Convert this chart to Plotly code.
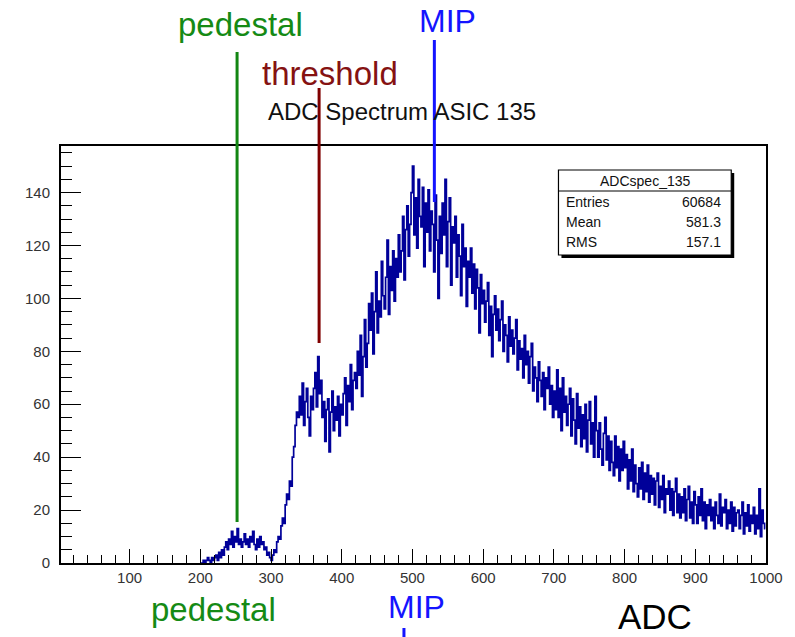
import plotly.graph_objects as go

# ---------------- data ----------------
BIN_START = 200          # ADC of the first filled bin
BIN_WIDTH = 2            # ADC counts per bin
counts = [
    0, 0, 1, 0, 1, 2, 1, 0, 2, 1,            # 200-218
    2, 3, 1, 4, 2, 5, 3, 6, 8, 5,            # 220-238
    9, 7, 12, 6, 10, 8, 13, 7, 9, 6,         # 240-258
    8, 11, 7, 9, 6, 10, 8, 12, 7, 5,         # 260-278
    9, 6, 10, 7, 8, 5, 6, 3, 4, 2,           # 280-298
    1, 3, 5, 4, 8, 10, 9, 14, 17, 15,        # 300-318
    22, 26, 24, 31, 29, 40, 44, 52, 57, 55,  # 320-338
    63, 56, 68, 52, 61, 66, 55, 48, 63, 58,  # 340-358
    66, 72, 59, 78, 64, 69, 55, 61, 46, 58,  # 360-378
    62, 42, 57, 65, 50, 59, 54, 63, 48, 60,  # 380-398
    56, 64, 70, 52, 67, 61, 75, 58, 69, 72,  # 400-418
    66, 80, 71, 86, 63, 78, 92, 74, 83, 98,  # 420-438
    88, 102, 79, 95, 110, 87, 99, 93, 114, 101,    # 440-458
    96, 108, 122, 94, 112, 103, 118, 99, 115, 108,  # 460-478
    124, 110, 118, 131, 107, 126, 135, 116, 128, 140,  # 480-498
    150, 124, 138, 119, 145, 131, 127, 142, 112, 136,  # 500-518
    125, 141, 118, 133, 128, 110, 139, 122, 100, 131,  # 520-538
    117, 136, 124, 145, 112, 129, 138, 105, 127, 121,  # 540-558
    131, 108, 124, 116, 101, 128, 112, 119, 97, 114,   # 560-578
    108, 119, 102, 113, 96, 111, 104, 87, 109, 98,     # 580-598
    103, 91, 99, 106, 86, 97, 78, 94, 101, 88,   # 600-618
    96, 84, 92, 99, 80, 90, 86, 76, 93, 82,      # 620-638
    88, 79, 85, 92, 73, 84, 77, 81, 70, 86,      # 640-658
    75, 80, 68, 78, 83, 65, 74, 70, 61, 76,      # 660-678
    69, 63, 72, 58, 70, 66, 74, 60, 67, 55,      # 680-698
    65, 58, 73, 55, 66, 50, 70, 57, 63, 52,      # 700-718
    60, 66, 48, 62, 54, 45, 64, 51, 59, 44,      # 720-738
    56, 47, 60, 42, 54, 61, 45, 53, 40, 63,      # 740-758
    50, 40, 53, 43, 37, 49, 55, 39, 48, 35,      # 760-778
    46, 38, 33, 48, 36, 44, 31, 43, 35, 46,      # 780-798
    36, 41, 28, 39, 31, 43, 27, 37, 30, 25,      # 800-818
    36, 28, 38, 24, 34, 27, 37, 23, 33, 26,      # 820-838
    32, 22, 31, 34, 21, 29, 24, 33, 19, 28,      # 840-858
    26, 31, 20, 28, 18, 27, 32, 19, 26, 17,      # 860-878
    25, 19, 28, 16, 24, 29, 17, 23, 15, 27,      # 880-898
    22, 15, 25, 18, 28, 16, 23, 13, 22, 18,      # 900-918
    24, 16, 21, 13, 23, 18, 15, 26, 14, 21,      # 920-938
    19, 24, 13, 20, 15, 23, 12, 21, 14, 19,      # 940-958
    20, 13, 18, 23, 11, 19, 14, 22, 12, 18,      # 960-978
    15, 21, 11, 18, 13, 28, 10, 20, 15, 13,      # 980-998
]

title_text = "ADC Spectrum ASIC 135"
stats_name = "ADCspec_135"
stats_rows = [("Entries", "60684"), ("Mean", "581.3"), ("RMS", "157.1")]

# marker positions on the ADC axis
PEDESTAL_ADC = 252
THRESHOLD_ADC = 368
MIP_ADC = 531
MIP_BOTTOM_ADC = 488

X_RANGE = [3, 1000]
Y_RANGE = [0, 157.6]

# ---------------- layout geometry ----------------
W, H = 795, 637
L, R, T, B = 61, 771, 146, 563


def px(xp):
    return (xp - L) / (R - L)


def py(yp):
    return (B - yp) / (B - T)


def adc2paper(a):
    return (a - X_RANGE[0]) / (X_RANGE[1] - X_RANGE[0])


centers = [BIN_START + BIN_WIDTH * (i + 0.5) for i in range(len(counts))]

FONT = "Liberation Sans, Arial, sans-serif"

fig = go.Figure()
fig.add_trace(go.Scatter(
    x=centers, y=counts, mode="lines",
    line=dict(color="#000099", width=1.7, shape="hvh"),
    hoverinfo="x+y", showlegend=False,
))

shapes = []


def vline(xp, y0, y1, color):
    shapes.append(dict(type="line", xref="paper", yref="paper",
                       x0=xp, x1=xp, y0=py(y0), y1=py(y1),
                       line=dict(color=color, width=3)))


vline(adc2paper(PEDESTAL_ADC), 52, 522, "#128612")
vline(adc2paper(THRESHOLD_ADC), 88, 343, "#800000")
vline(adc2paper(MIP_ADC), 40, 202, "#1414ff")
vline(adc2paper(MIP_BOTTOM_ADC), 628, 640, "#1414ff")

# stats box (ROOT style with shadow)
bx0, bx1, by0, by1 = 562, 736, 170, 255
shapes.append(dict(type="rect", xref="paper", yref="paper",
                   x0=px(bx0 + 3), x1=px(bx1 + 3), y0=py(by0 + 3), y1=py(by1 + 3),
                   fillcolor="black", line=dict(width=0)))
shapes.append(dict(type="rect", xref="paper", yref="paper",
                   x0=px(bx0), x1=px(bx1), y0=py(by0), y1=py(by1),
                   fillcolor="white", line=dict(color="black", width=1.2)))
shapes.append(dict(type="line", xref="paper", yref="paper",
                   x0=px(bx0), x1=px(bx1), y0=py(191), y1=py(191),
                   line=dict(color="black", width=1)))

annotations = []


def txt(text, xp, yp, size, color, anchor="center"):
    annotations.append(dict(text=text, xref="paper", yref="paper",
                            x=px(xp), y=py(yp), xanchor=anchor, yanchor="middle",
                            showarrow=False,
                            font=dict(family=FONT, size=size, color=color)))


txt("pedestal", 242, 24, 33, "#158a15")
txt("MIP", 450, 21, 32, "#1414ff")
txt("threshold", 332, 74, 33, "#851212")
txt(title_text, 404, 111, 24, "#111111")
txt("pedestal", 215, 609, 33, "#158a15")
txt("MIP", 419, 607, 32, "#1414ff")
txt("ADC", 659, 616, 35, "#000000")

txt(stats_name, (bx0 + bx1) / 2, 181, 14, "#111111")
for (name, val), yy in zip(stats_rows, [202, 222, 242]):
    txt(name, 568, yy, 14, "#111111", anchor="left")
    txt(val, 728, yy, 14, "#111111", anchor="right")

fig.update_layout(
    width=W, height=H,
    margin=dict(l=L, r=W - R, t=T, b=H - B, pad=0),
    paper_bgcolor="white", plot_bgcolor="white",
    shapes=shapes, annotations=annotations,
    showlegend=False,
    font=dict(family=FONT, size=15, color="#333333"),
)
fig.update_xaxes(
    range=X_RANGE, showgrid=False, zeroline=False,
    showline=True, linecolor="black", linewidth=2, mirror=True,
    ticks="inside", ticklen=14, tickwidth=1, tickcolor="black",
    tick0=0, dtick=100,
    minor=dict(ticks="inside", ticklen=8, tickwidth=1, tickcolor="black", dtick=20, tick0=0),
    tickfont=dict(family=FONT, size=15, color="#333333"),
)
fig.update_yaxes(
    range=Y_RANGE, showgrid=False, zeroline=False,
    showline=True, linecolor="black", linewidth=2, mirror=True,
    ticks="inside", ticklen=20, tickwidth=1, tickcolor="black",
    tick0=0, dtick=20,
    minor=dict(ticks="inside", ticklen=11, tickwidth=1, tickcolor="black", dtick=5, tick0=0),
    tickfont=dict(family=FONT, size=15, color="#333333"),
    ticklabelstandoff=6,
)

fig.write_html("out.html")
